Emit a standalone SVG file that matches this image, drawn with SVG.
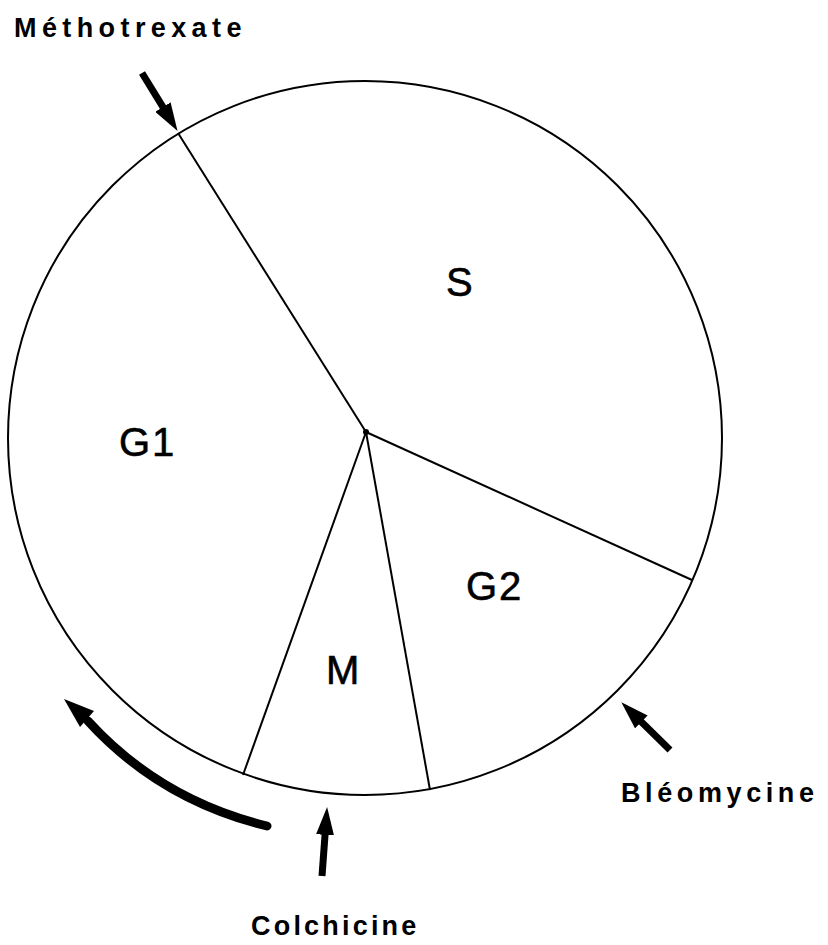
<svg xmlns="http://www.w3.org/2000/svg" width="828" height="945" viewBox="0 0 828 945">
  <style>
    .edge { fill: none; stroke: #000; stroke-width: 2; }
    .phase { font-family: "Liberation Sans", Arial, sans-serif; font-size: 40px; fill: #000; stroke: #000; stroke-width: 0.6; }
    .drug { font-family: "Liberation Sans", Arial, sans-serif; font-weight: bold; font-size: 27px; fill: #000; }
    .arr { stroke: #000; stroke-width: 7; fill: none; }
  </style>
  <defs>
    <marker id="head" markerUnits="userSpaceOnUse" markerWidth="28" markerHeight="18" refX="9" refY="9" orient="auto">
      <path d="M0,0 L28,9 L0,18 Z" fill="#000"/>
    </marker>
  </defs>
  <rect width="828" height="945" fill="#fff"/>

  <g id="cycle">
    <circle cx="365" cy="438" r="357" class="edge"/>
  </g>

  <g id="connectors">
    <line x1="366" y1="432" x2="178" y2="133" class="edge"/>
    <line x1="366" y1="432" x2="692" y2="580" class="edge"/>
    <line x1="366" y1="432" x2="243" y2="775" class="edge"/>
    <line x1="366" y1="432" x2="430" y2="790" class="edge"/>
    <circle cx="366" cy="432" r="3" fill="#000"/>
  </g>

  <g id="phase-S"><text class="phase" x="446" y="296">S</text></g>
  <g id="phase-G1"><text class="phase" x="119" y="456" letter-spacing="2">G1</text></g>
  <g id="phase-G2"><text class="phase" x="466" y="600" letter-spacing="2">G2</text></g>
  <g id="phase-M"><text class="phase" x="326" y="684">M</text></g>

  <g id="methotrexate">
    <text class="drug" x="14" y="37" letter-spacing="5.4">Méthotrexate</text>
    <line class="arr" x1="142" y1="73" x2="167.6" y2="114.7" marker-end="url(#head)"/>
  </g>

  <g id="bleomycine">
    <text class="drug" x="621" y="802" letter-spacing="4.6">Bléomycine</text>
    <line class="arr" stroke-width="6" x1="670" y1="750" x2="634.9" y2="715.6" marker-end="url(#head)"/>
  </g>

  <g id="colchicine">
    <text class="drug" x="251" y="935" letter-spacing="3.2">Colchicine</text>
    <line class="arr" stroke-width="6" x1="322" y1="876" x2="325.7" y2="825.9" marker-end="url(#head)"/>
  </g>

  <g id="direction">
    <path d="M267 826 Q160 800 88 721" fill="none" stroke="#000" stroke-width="9" stroke-linecap="round"/>
    <path d="M64 699 L94 711 L80 727 Z" fill="#000"/>
  </g>
</svg>
